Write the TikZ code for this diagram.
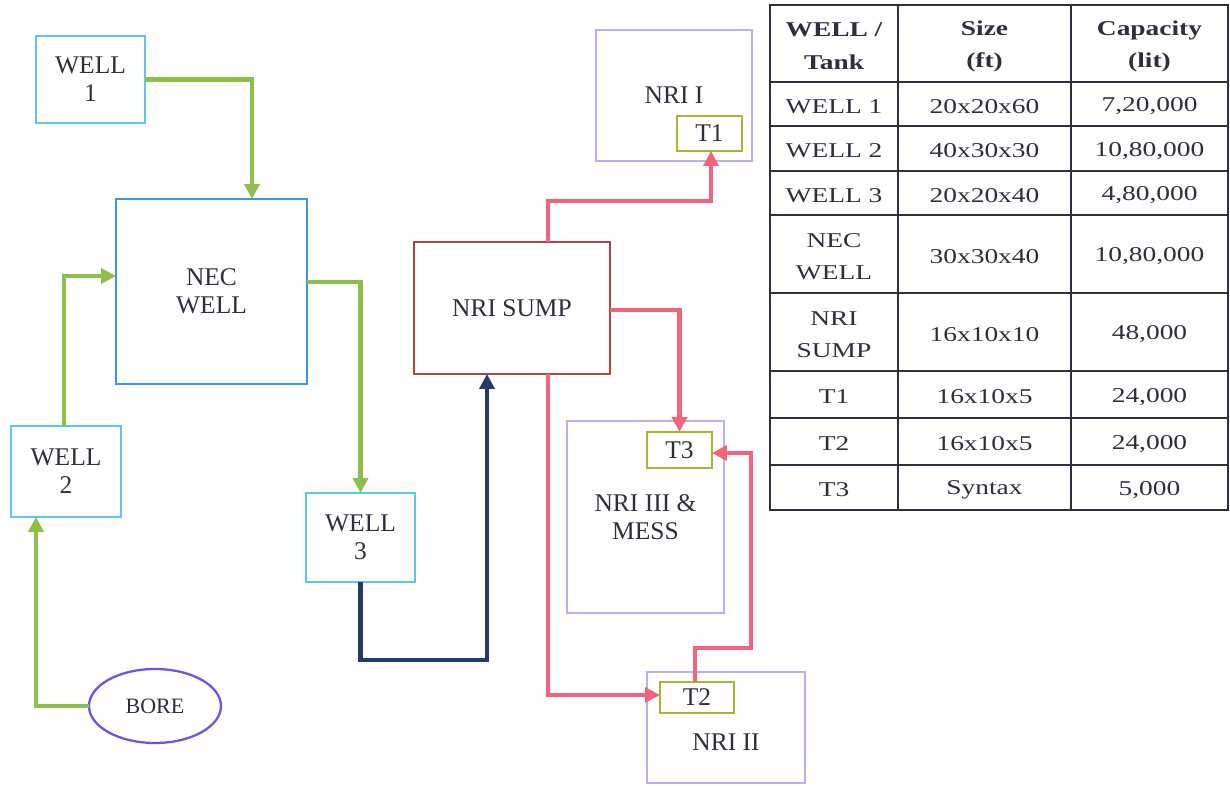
\documentclass[tikz,border=0pt]{standalone}
\usepackage{fontspec}
\setmainfont{Liberation Serif}
\newfontfamily\tabfont{Liberation Serif}[FakeStretch=1.3]
\usepackage{xcolor}
\usetikzlibrary{arrows.meta,calc,positioning,shapes.geometric}
\definecolor{wellblue}{HTML}{5CC6EE}
\definecolor{necblue}{HTML}{3A96E0}
\definecolor{pipegreen}{HTML}{8CC04A}
\definecolor{pipepink}{HTML}{F2647C}
\definecolor{pipenavy}{HTML}{243A6C}
\definecolor{sumpred}{HTML}{B04444}
\definecolor{bldglilac}{HTML}{B8B0F0}
\definecolor{tankolive}{HTML}{A2B832}
\definecolor{borepurple}{HTML}{7452E0}
\definecolor{inkgray}{HTML}{2E2E3E}

\begin{document}
\begin{tikzpicture}[x=0.02cm,y=-0.02cm,font=\fontsize{14.5}{16}\selectfont,text=inkgray,
  >={Triangle[length=8.5pt,width=8.5pt]},line join=miter]
\tikzstyle{every node}=[inner sep=0pt,outer sep=0pt,align=center]
\tikzstyle{wellbox}=[rectangle,draw=wellblue,line width=1.3pt]
\tikzstyle{bldgbox}=[rectangle,draw=bldglilac,line width=0.8pt]
\tikzstyle{tankbox}=[rectangle,draw=tankolive,line width=1.4pt,fill=white]
\tikzstyle{greenpipe}=[->,draw=pipegreen,line width=2.5pt]
\tikzstyle{pinkpipe}=[->,draw=pipepink,line width=2.8pt]
\tikzstyle{navypipe}=[->,draw=pipenavy,line width=2.5pt]
\tikzstyle{tabline}=[draw=inkgray,line width=1pt]
\tikzstyle{cell}=[yshift=-1.4pt,font=\tabfont\fontsize{12}{18.5}\selectfont]
\tikzstyle{headcell}=[yshift=-1.6pt,font=\tabfont\bfseries\fontsize{12}{18.5}\selectfont]

\useasboundingbox (0,0) rectangle (1230,785);

\node[wellbox,minimum width=2.18cm,minimum height=1.74cm] (well1) at (90.5,79.5) {WELL\\1};
\node[rectangle,draw=necblue,line width=1.6pt,minimum width=3.82cm,minimum height=3.7cm] (nec) at (211.5,291.5) {NEC\\WELL};
\node[wellbox,minimum width=2.2cm,minimum height=1.82cm] (well2) at (66,471.5) {WELL\\2};
\node[wellbox,minimum width=2.18cm,minimum height=1.78cm] (well3) at (360.5,537.5) {WELL\\3};
\node[ellipse,draw=borepurple,line width=1.3pt,minimum width=2.64cm,minimum height=1.48cm,font=\fontsize{12.5}{14}\selectfont] (bore) at (155,706) {BORE};
\node[rectangle,draw=sumpred,line width=1.4pt,minimum width=3.92cm,minimum height=2.64cm] (sump) at (512,308) {NRI SUMP};

\node[bldgbox,minimum width=3.12cm,minimum height=2.62cm] (nri1) at (674,95.5) {NRI I};
\node[tankbox,minimum width=1.3cm,minimum height=0.7cm] (t1) at (709.5,133.5) {T1};
\node[bldgbox,minimum width=3.14cm,minimum height=3.84cm] (nri3) at (645.5,517) {NRI III \&\\MESS};
\node[tankbox,minimum width=1.3cm,minimum height=0.72cm] (t3) at (679.5,450) {T3};
\node[bldgbox,minimum width=3.16cm,minimum height=2.22cm] (nri2) at (726,727.5) {};
\node (nri2txt) at (726,742) {NRI II};
\node[tankbox,minimum width=1.48cm,minimum height=0.62cm] (t2) at (697,697.5) {T2};

\draw[greenpipe] (well1.east) -| ($(nec.north)+(40.5,0)$);
\draw[greenpipe] ($(well2.north)+(-2,0)$) |- ($(nec.west)+(0,-15.5)$);
\draw[greenpipe] ($(nec.east)+(0,-9.5)$) -| (well3.north);
\draw[greenpipe] (bore.west) -| ($(well2.south)+(-30,0)$);
\draw[navypipe] (well3.south) -- ++(0,78) -| ($(sump.south)+(-25,0)$);
\draw[pinkpipe] ($(sump.north)+(36,0)$) -- ++(0,-41) -| ($(t1.south)+(1.5,0)$);
\draw[pinkpipe] ($(sump.east)+(0,2)$) -| (t3.north);
\draw[pinkpipe] ($(sump.south)+(36,0)$) |- ($(t2.west)+(0,-2.5)$);
\draw[pinkpipe] ($(t2.north)+(-2,0)$) -- ++(0,-34) -- ++(56,0) |- ($(t3.east)+(0,3)$);

\draw[tabline] (770,5) rectangle (1228,510);
\draw[tabline] (898,5) -- (898,510) (1071,5) -- (1071,510);
\foreach \y in {82,126,171,215,293,371,418,465} \draw[tabline] (770,\y) -- (1228,\y);

\node[headcell] (h1) at (834,43.5) {WELL /\\Tank};
\node[headcell] (h2) at (984.5,43.5) {Size\\(ft)};
\node[headcell] (h3) at (1149.5,43.5) {Capacity\\(lit)};
\node[cell] (r1a) at (834,104) {WELL 1}; \node[cell] (r1b) at (984.5,104) {20x20x60}; \node[cell] (r1c) at (1149.5,104) {7,20,000};
\node[cell] (r2a) at (834,148.5) {WELL 2}; \node[cell] (r2b) at (984.5,148.5) {40x30x30}; \node[cell] (r2c) at (1149.5,148.5) {10,80,000};
\node[cell] (r3a) at (834,193) {WELL 3}; \node[cell] (r3b) at (984.5,193) {20x20x40}; \node[cell] (r3c) at (1149.5,193) {4,80,000};
\node[cell] (r4a) at (834,254) {NEC\\WELL}; \node[cell] (r4b) at (984.5,254) {30x30x40}; \node[cell] (r4c) at (1149.5,254) {10,80,000};
\node[cell] (r5a) at (834,332) {NRI\\SUMP}; \node[cell] (r5b) at (984.5,332) {16x10x10}; \node[cell] (r5c) at (1149.5,332) {48,000};
\node[cell] (r6a) at (834,394.5) {T1}; \node[cell] (r6b) at (984.5,394.5) {16x10x5}; \node[cell] (r6c) at (1149.5,394.5) {24,000};
\node[cell] (r7a) at (834,441.5) {T2}; \node[cell] (r7b) at (984.5,441.5) {16x10x5}; \node[cell] (r7c) at (1149.5,441.5) {24,000};
\node[cell] (r8a) at (834,487.5) {T3}; \node[cell] (r8b) at (984.5,487.5) {Syntax}; \node[cell] (r8c) at (1149.5,487.5) {5,000};
\end{tikzpicture}
\end{document}
